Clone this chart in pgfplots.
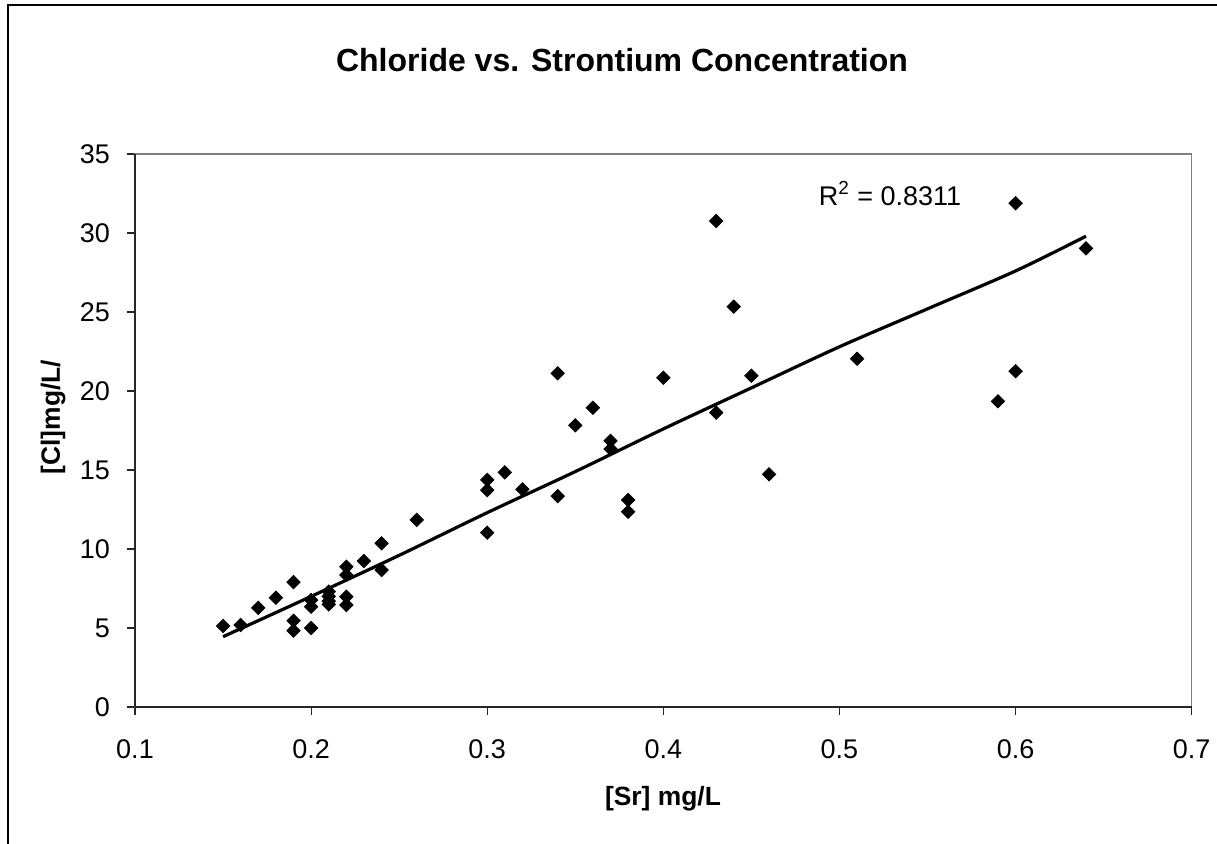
\documentclass[border=0pt]{standalone}
\usepackage{fontspec}
\setmainfont{Liberation Sans}
\usepackage{pgfplots}
\pgfplotsset{compat=1.18}
\begin{document}
\begin{tikzpicture}
\useasboundingbox (0,0) rectangle (608.5bp,-422bp);
\clip (0,0) rectangle (608.5bp,-422bp);
\draw[black, line width=1bp] (3.75bp,-440bp) -- (3.75bp,-2.5bp) -- (640bp,-2.5bp);
\begin{axis}[
  at={(67.5bp,-353.5bp)}, anchor=south west,
  scale only axis, width=528.35bp, height=276.5bp,
  xmin=0.1, xmax=0.7, ymin=0, ymax=35,
  xtick={0.1,0.2,0.3,0.4,0.5,0.6,0.7},
  ytick={0,5,10,15,20,25,30,35},
  xticklabels={0.1,0.2,0.3,0.4,0.5,0.6,0.7},
  axis line style={draw=gray, line width=0.75bp},
  tick style={black!85, line width=0.6bp},
  major tick length=4bp,
  tick align=outside,
  xtick pos=bottom, ytick pos=left,
  /pgf/number format/assume math mode=true,
  ticklabel style={font=\fontsize{13.5bp}{16bp}\selectfont},
  xticklabel style={yshift=-9bp},
  yticklabel style={xshift=-5bp},
  clip=false,
]
\draw[black!85, line width=0.75bp] (axis cs:0.1,0) -- (axis cs:0.7,0);
\draw[black!85, line width=0.75bp] (axis cs:0.1,0) -- (axis cs:0.1,35);
\addplot[only marks, mark=square*, mark size=2.36bp, mark options={rotate=45, fill=black, draw=black}] coordinates {
(0.15,5.13) (0.16,5.19) (0.17,6.27) (0.18,6.92)
(0.19,7.91) (0.19,5.46) (0.19,4.83)
(0.20,6.77) (0.20,6.35) (0.20,5.00)
(0.21,7.30) (0.21,7.00) (0.21,6.70) (0.21,6.50)
(0.22,8.88) (0.22,8.35) (0.22,6.98) (0.22,6.46)
(0.23,9.24) (0.24,10.36) (0.24,8.67) (0.26,11.84)
(0.30,14.37) (0.30,13.73) (0.30,11.03)
(0.31,14.85) (0.32,13.78)
(0.34,21.12) (0.34,13.35)
(0.35,17.83) (0.36,18.94)
(0.37,16.85) (0.37,16.33)
(0.38,13.10) (0.38,12.36)
(0.40,20.84)
(0.43,30.76) (0.43,18.63)
(0.44,25.34) (0.45,20.97) (0.46,14.73)
(0.51,22.04)
(0.59,19.35)
(0.60,31.88) (0.60,21.25)
(0.64,29.03)
};
\addplot[black, line width=1.6bp, smooth] coordinates {
(0.15,4.45) (0.2,7.0) (0.25,9.6) (0.3,12.3) (0.35,14.9) (0.4,17.6)
(0.45,20.2) (0.5,22.8) (0.55,25.2) (0.6,27.6) (0.64,29.8)
};
\node[font=\fontsize{13.5bp}{16bp}\selectfont] at (axis cs:0.5287,32.5) {R\textsuperscript{2} = 0.8311};
\end{axis}
\node[font=\fontsize{16bp}{19bp}\selectfont\bfseries] at (311bp,-30bp) {Chloride vs. Strontium Concentration};
\node[font=\fontsize{13.2bp}{16bp}\selectfont\bfseries] at (331.5bp,-399.5bp) {[Sr] mg/L};
\node[font=\fontsize{13.2bp}{16bp}\selectfont\bfseries, rotate=90] at (26.5bp,-208.5bp) {[Cl]mg/L/};
\end{tikzpicture}
\end{document}
